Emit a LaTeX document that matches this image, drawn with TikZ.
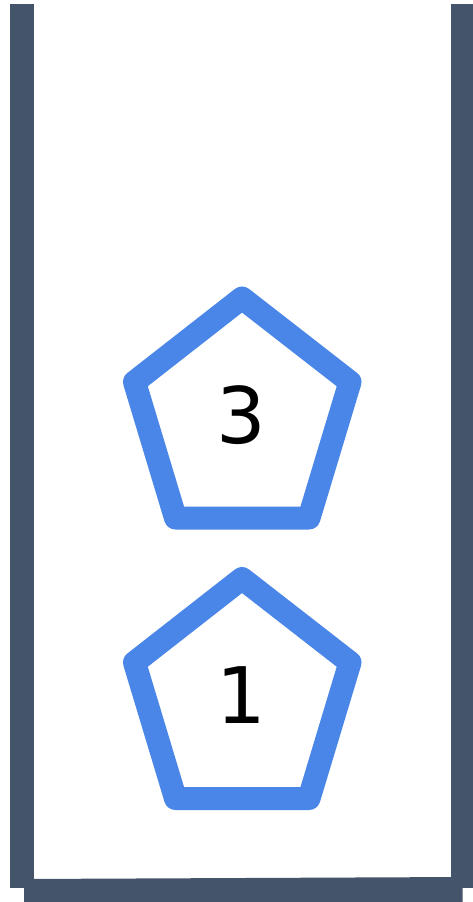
\documentclass[tikz,border=0pt]{standalone}
\usepackage{fontspec}
\setmainfont{DejaVu Sans}
\definecolor{wall}{HTML}{44546A}
\definecolor{penta}{HTML}{4A86E8}
\tikzset{
  wallpart/.style={fill=wall, draw=none},
  pentabox/.style={draw=penta, line width=23pt, line join=round, fill=white},
  numlabel/.style={font=\fontsize{78}{80}\selectfont, inner sep=0pt, text=black}
}
\begin{document}
\begin{tikzpicture}[x=1pt,y=-1pt]
\useasboundingbox[fill=white] (0,0) rectangle (473,902);
% walls
\fill[wallpart] (10,4) rectangle (34,888);
\fill[wallpart] (450.5,4) rectangle (473,888);
\fill[wallpart] (24,879) -- (462.5,877) -- (462.5,902) -- (24,902) -- cycle;
% pentagons
\draw[pentabox] (242,298) -- (350,382) -- (309,518) -- (175.5,518) -- (134.5,382) -- cycle;
\node[numlabel] (n3) at (241,415) {3};
\draw[pentabox] (242,578.5) -- (350,662.5) -- (309,798.5) -- (175.5,798.5) -- (134.5,662.5) -- cycle;
\node[numlabel] (n1) at (241,695) {1};
\end{tikzpicture}
\end{document}
